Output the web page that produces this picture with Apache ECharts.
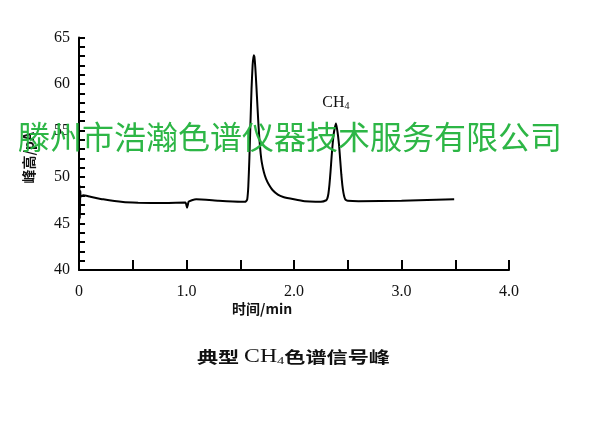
<!DOCTYPE html>
<html>
<head>
<meta charset="utf-8">
<script src="https://cdn.jsdelivr.net/npm/echarts@6/dist/echarts.min.js"></script>
<style>html,body{margin:0;padding:0;background:#fff}#c{width:600px;height:444px}</style>
</head>
<body>
<div id="c"></div>
<script>
// Data
var timeMin = [0, 0.004, 0.008, 0.012, 0.016, 0.04, 0.1, 0.226, 0.41, 0.55, 0.8, 0.99, 1.005, 1.012, 1.02, 1.05, 1.09, 1.3, 1.5,
  1.55, 1.565, 1.575, 1.585, 1.595, 1.605, 1.615, 1.625, 1.632, 1.64, 1.65, 1.66, 1.67, 1.68, 1.69, 1.70, 1.72, 1.74, 1.77, 1.80, 1.85, 1.90, 2.0, 2.1, 2.2, 2.25,
  2.30, 2.31, 2.32, 2.33, 2.34, 2.35, 2.36, 2.37, 2.38, 2.39, 2.40, 2.41, 2.42, 2.43, 2.44, 2.45, 2.46, 2.47, 2.48, 2.50, 2.6, 3.0, 3.49];
var signalPA = [44.5, 49.2, 45.5, 48.5, 47.9, 48.05, 47.9, 47.6, 47.3, 47.24, 47.2, 47.25, 46.7, 47.0, 47.35, 47.5, 47.6, 47.45, 47.35,
  47.35, 47.6, 49.0, 52.0, 55.8, 59.5, 62.0, 63.1, 62.9, 61.8, 59.8, 57.6, 55.5, 53.8, 52.5, 51.6, 50.5, 49.8, 49.1, 48.6, 48.1, 47.85, 47.6, 47.4, 47.35, 47.35,
  47.5, 47.7, 48.2, 49.2, 50.6, 52.2, 53.6, 54.7, 55.3, 55.75, 55.2, 54.4, 53.3, 51.8, 50.3, 49.1, 48.3, 47.8, 47.55, 47.45, 47.4, 47.45, 47.6];
var xTickLabels = {0: '0', 1: '1.0', 2: '2.0', 3: '3.0', 4: '4.0'};
var peakLabel = {t: 2.39, v: 55.75};
var watermark = '滕州市浩瀚色谱仪器技术服务有限公司';

var pts = timeMin.map(function (t, i) { return [t, signalPA[i]]; });
var serif = '"Liberation Serif", "DejaVu Serif", serif';
var cjk = '"Noto Sans CJK SC", sans-serif';

var chart = echarts.init(document.getElementById('c'), null, {renderer: 'canvas'});
chart.setOption({
  backgroundColor: '#fff',
  animation: false,
  grid: {left: 79, right: 91, top: 37.5, bottom: 174, containLabel: false},
  xAxis: {
    type: 'value', min: 0, max: 4, interval: 0.5,
    axisLine: {show: true, lineStyle: {color: '#000', width: 2}},
    axisTick: {show: true, inside: true, length: 10, lineStyle: {color: '#000', width: 2}},
    axisLabel: {
      margin: 14, color: '#111', fontFamily: serif, fontSize: 16,
      formatter: function (v) { return xTickLabels.hasOwnProperty(v) ? xTickLabels[v] : ''; }
    },
    splitLine: {show: false}
  },
  yAxis: {
    type: 'value', min: 40, max: 65, interval: 5,
    axisLine: {show: true, lineStyle: {color: '#000', width: 2}},
    axisTick: {show: true, inside: true, length: 6, lineStyle: {color: '#000', width: 2}},
    minorTick: {show: true, splitNumber: 5, length: 6, lineStyle: {color: '#000', width: 2}},
    axisLabel: {margin: 9, color: '#111', fontFamily: serif, fontSize: 16},
    splitLine: {show: false}
  },
  series: [{
    type: 'line',
    data: pts,
    symbol: 'none',
    smooth: 0.15,
    lineStyle: {color: '#000', width: 2},
    markPoint: {
      symbol: 'circle', symbolSize: 0,
      data: [{coord: [peakLabel.t, peakLabel.v]}],
      label: {
        show: true, position: 'top', distance: 12,
        formatter: '{ch|CH}{sub|4}',
        rich: {
          ch: {fontFamily: serif, fontSize: 16, color: '#111'},
          sub: {fontFamily: serif, fontSize: 10, color: '#111', verticalAlign: 'bottom', padding: [8, 0, 0, 0]}
        }
      }
    }
  }],
  graphic: [
    {
      type: 'text', left: 22, top: 132, rotation: Math.PI / 2, z: 10,
      style: {text: '峰高/pA', fontFamily: cjk, fontSize: 14, fontWeight: 'bold', fill: '#111'}
    },
    {
      type: 'text', left: 232, top: 302, z: 10,
      style: {text: '时间/min', fontFamily: cjk, fontSize: 14, fontWeight: 'bold', fill: '#111'}
    },
    {
      type: 'text', left: 197, top: 348, z: 10, scaleX: 1.32,
      style: {
        text: '典型 {ch|CH}{sub|4}色谱信号峰',
        fontFamily: cjk, fontSize: 16, fontWeight: 'bold', fill: '#111',
        rich: {
          ch: {fontFamily: serif, fontSize: 18, fontWeight: 'normal', fill: '#111'},
          sub: {fontFamily: serif, fontSize: 11, fontWeight: 'normal', fill: '#111', verticalAlign: 'bottom', padding: [8, 0, 0, 0]}
        }
      }
    },
    {
      type: 'text', left: 18, top: 121, z: 100,
      style: {text: watermark, fontFamily: cjk, fontSize: 32, fontWeight: 'normal', fill: 'rgba(34,178,60,0.95)'}
    }
  ]
});
</script>
</body>
</html>
